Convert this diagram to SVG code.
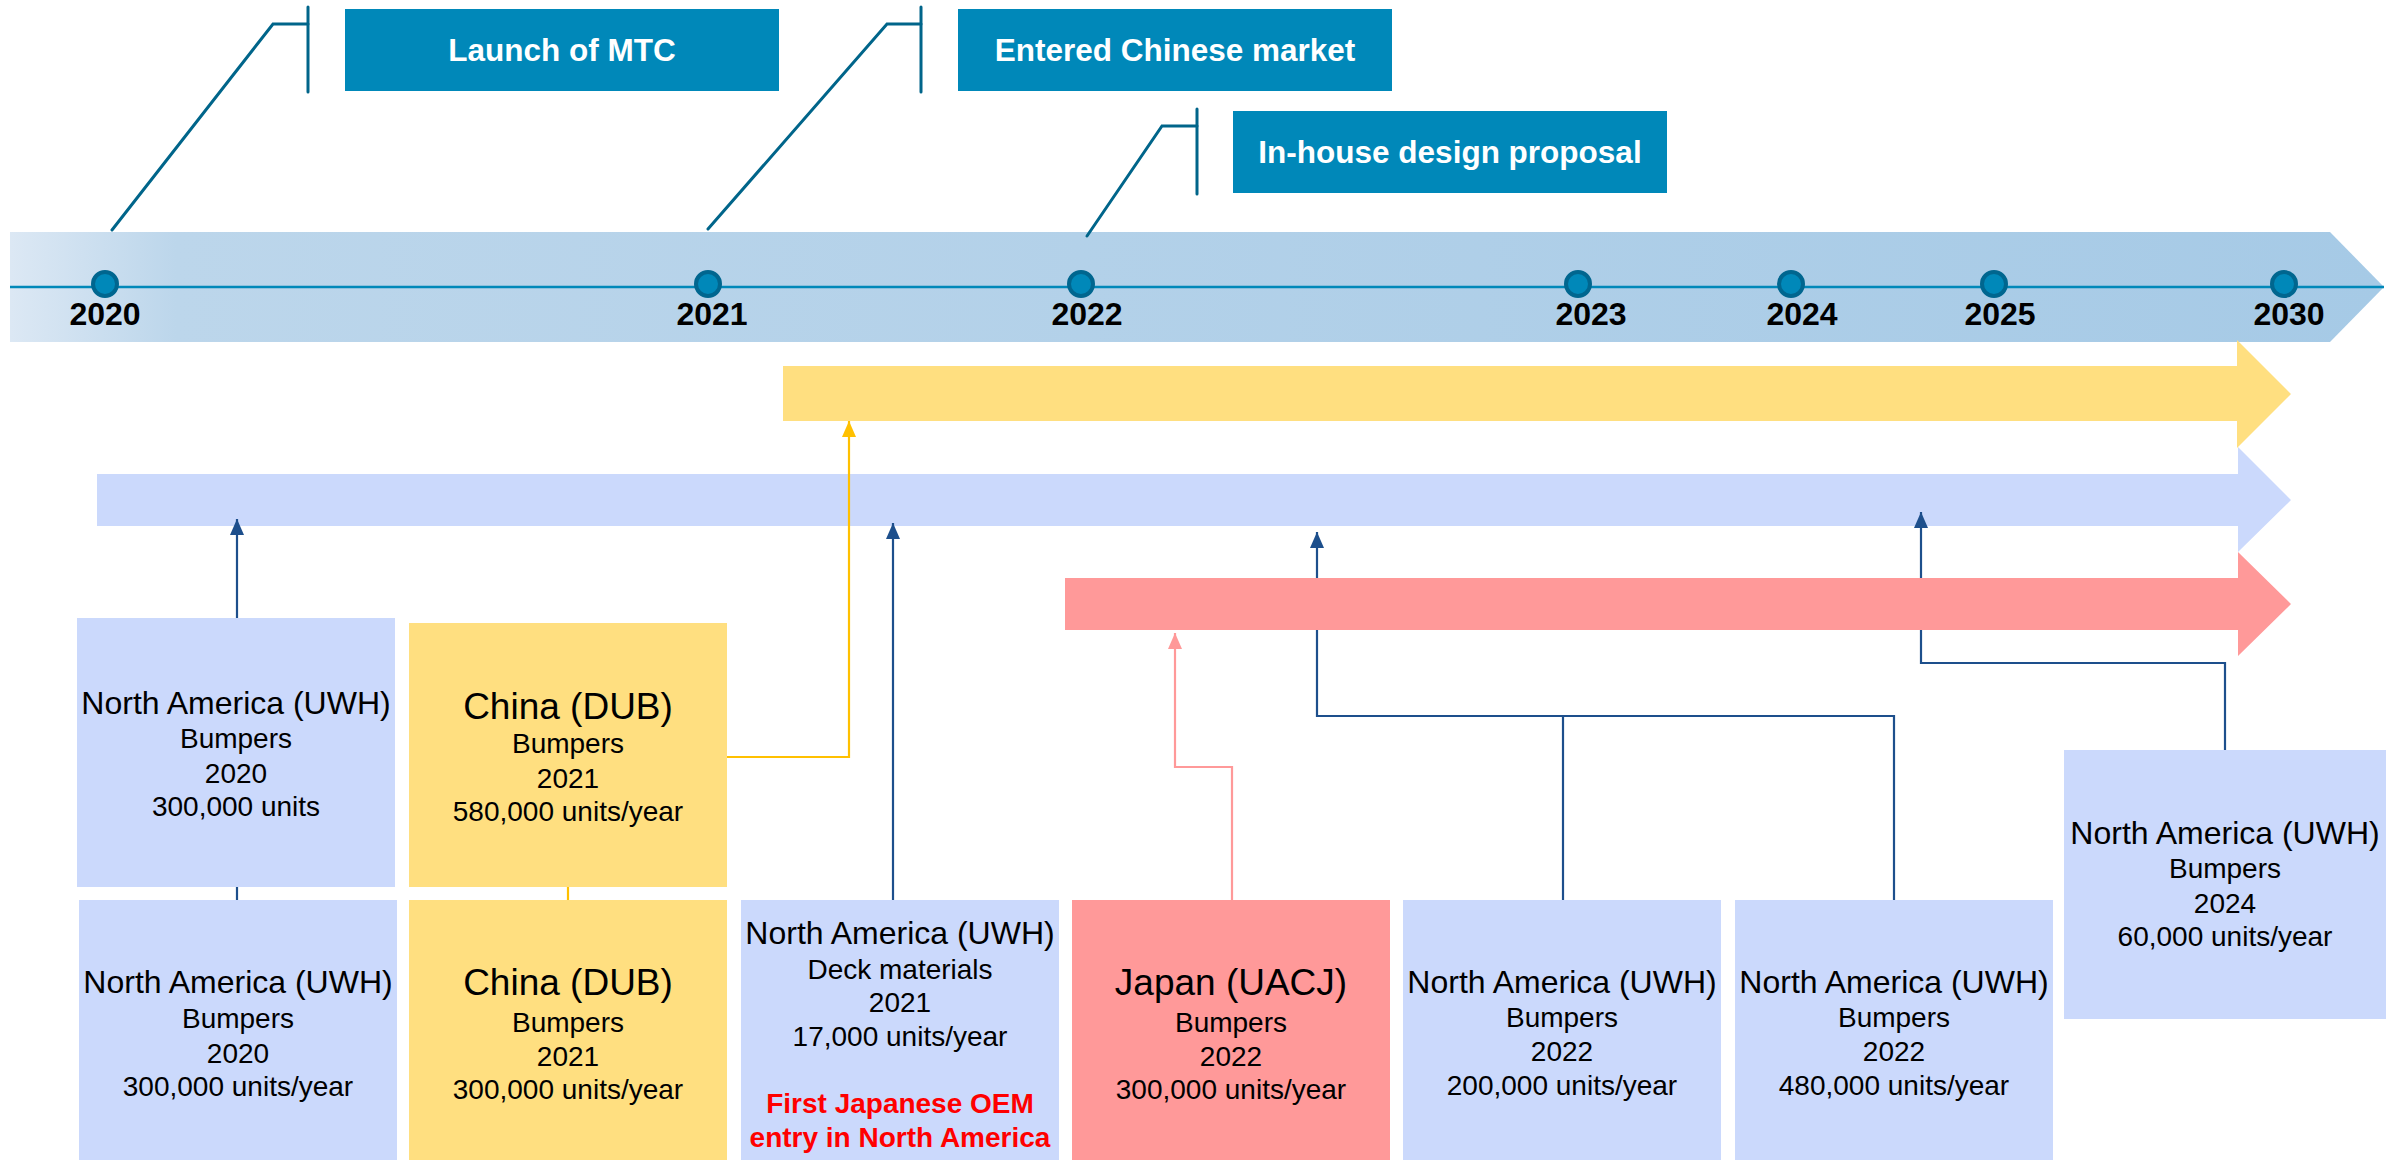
<svg xmlns="http://www.w3.org/2000/svg" width="2392" height="1160" viewBox="0 0 2392 1160">
<defs>
<linearGradient id="band" x1="0" y1="0" x2="1" y2="0">
<stop offset="0" stop-color="#dce8f4"/>
<stop offset="0.07" stop-color="#bcd6eb"/>
<stop offset="1" stop-color="#a6cae6"/>
</linearGradient>
<marker id="ab" viewBox="0 0 16 14" refX="16" refY="7" markerWidth="16" markerHeight="14" markerUnits="userSpaceOnUse" orient="auto"><path d="M0,0 L16,7 L0,14 z" fill="#1d4f8c"/></marker>
<marker id="ay" viewBox="0 0 16 14" refX="16" refY="7" markerWidth="16" markerHeight="14" markerUnits="userSpaceOnUse" orient="auto"><path d="M0,0 L16,7 L0,14 z" fill="#ffc000"/></marker>
<marker id="ap" viewBox="0 0 16 14" refX="16" refY="7" markerWidth="16" markerHeight="14" markerUnits="userSpaceOnUse" orient="auto"><path d="M0,0 L16,7 L0,14 z" fill="#ff9999"/></marker>
<style>
text{font-family:"Liberation Sans",Arial,sans-serif;text-anchor:middle;fill:#000}
.t{font-size:28px}
.h{font-size:32px}
.hl{font-size:37px}
.red{font-size:28px;font-weight:bold;fill:#ff0000}
.yr{font-size:32px;font-weight:bold}
.cl{font-size:31.5px;font-weight:bold;fill:#fff}
.cbox{fill:#0088b9}
.cline{fill:none;stroke:#00658a;stroke-width:3;stroke-linecap:round;stroke-linejoin:miter}
.dot{fill:#0088b9;stroke:#00668f;stroke-width:4}
.lav{fill:#cbd9fc}
.yel{fill:#ffdf80}
.pnk{fill:#ff9999}
.cb{fill:none;stroke:#1d4f8c;stroke-width:2.2}
.cy{fill:none;stroke:#ffc000;stroke-width:2.2}
.cp{fill:none;stroke:#ff9999;stroke-width:2.2}
</style>
</defs>

<g id="timeline">
<polygon points="10,232 2330,232 2384,287 2330,342 10,342" fill="url(#band)"/>
<line x1="10" y1="287" x2="2384" y2="287" stroke="#0088b9" stroke-width="2.5"/>
<circle class="dot" cx="105" cy="284" r="12"/>
<circle class="dot" cx="708" cy="284" r="12"/>
<circle class="dot" cx="1081" cy="284" r="12"/>
<circle class="dot" cx="1578" cy="284" r="12"/>
<circle class="dot" cx="1791" cy="284" r="12"/>
<circle class="dot" cx="1994" cy="284" r="12"/>
<circle class="dot" cx="2284" cy="284" r="12"/>
<text class="yr" x="105" y="325">2020</text>
<text class="yr" x="712" y="325">2021</text>
<text class="yr" x="1087" y="325">2022</text>
<text class="yr" x="1591" y="325">2023</text>
<text class="yr" x="1802" y="325">2024</text>
<text class="yr" x="2000" y="325">2025</text>
<text class="yr" x="2289" y="325">2030</text>
</g>

<g id="callout-mtc">
<path class="cline" d="M112,230 L273,24 L308,24"/>
<line class="cline" x1="308" y1="7" x2="308" y2="92"/>
<rect class="cbox" x="345" y="9" width="434" height="82"/>
<text class="cl" x="562" y="61">Launch of MTC</text>
</g>
<g id="callout-china">
<path class="cline" d="M708,229 L887,24 L921,24"/>
<line class="cline" x1="921" y1="7" x2="921" y2="92"/>
<rect class="cbox" x="958" y="9" width="434" height="82"/>
<text class="cl" x="1175" y="61">Entered Chinese market</text>
</g>
<g id="callout-design">
<path class="cline" d="M1087,236 L1162,126 L1197,126"/>
<line class="cline" x1="1197" y1="109" x2="1197" y2="194"/>
<rect class="cbox" x="1233" y="111" width="434" height="82"/>
<text class="cl" x="1450" y="163">In-house design proposal</text>
</g>

<g id="lane-yellow">
<polygon class="yel" points="783,366 2237,366 2237,340 2291,394 2237,448 2237,421 783,421"/>
</g>
<g id="lane-blue">
<polygon class="lav" points="97,474 2238,474 2238,447 2291,500 2238,552 2238,526 97,526"/>
</g>

<g id="connectors">
<path class="cb" d="M237,900 L237,519" marker-end="url(#ab)"/>
<path class="cy" d="M568,900 L568,757 L849,757 L849,421" marker-end="url(#ay)"/>
<path class="cb" d="M893,900 L893,523" marker-end="url(#ab)"/>
<path class="cp" d="M1232,900 L1232,767 L1175,767 L1175,633" marker-end="url(#ap)"/>
<path class="cb" d="M1563,900 L1563,716"/>
<path class="cb" d="M1894,900 L1894,716 L1317,716 L1317,532" marker-end="url(#ab)"/>
<path class="cb" d="M2225,750 L2225,663 L1921,663 L1921,512" marker-end="url(#ab)"/>
</g>

<g id="lane-red">
<polygon class="pnk" points="1065,578 2238,578 2238,552 2291,604 2238,656 2238,630 1065,630"/>
</g>

<g id="na-2020-a">
<rect class="lav" x="77" y="618" width="318" height="269"/>
<text class="h" x="236" y="714">North America (UWH)</text>
<text class="t" x="236" y="748">Bumpers</text>
<text class="t" x="236" y="783">2020</text>
<text class="t" x="236" y="816">300,000 units</text>
</g>
<g id="china-2021-a">
<rect class="yel" x="409" y="623" width="318" height="264"/>
<text class="hl" x="568" y="719">China (DUB)</text>
<text class="t" x="568" y="753">Bumpers</text>
<text class="t" x="568" y="788">2021</text>
<text class="t" x="568" y="821">580,000 units/year</text>
</g>
<g id="na-2020-b">
<rect class="lav" x="79" y="900" width="318" height="260"/>
<text class="h" x="238" y="993">North America (UWH)</text>
<text class="t" x="238" y="1028">Bumpers</text>
<text class="t" x="238" y="1063">2020</text>
<text class="t" x="238" y="1096">300,000 units/year</text>
</g>
<g id="china-2021-b">
<rect class="yel" x="409" y="900" width="318" height="260"/>
<text class="hl" x="568" y="995">China (DUB)</text>
<text class="t" x="568" y="1032">Bumpers</text>
<text class="t" x="568" y="1066">2021</text>
<text class="t" x="568" y="1099">300,000 units/year</text>
</g>
<g id="na-deck-2021">
<rect class="lav" x="741" y="900" width="318" height="260"/>
<text class="h" x="900" y="944">North America (UWH)</text>
<text class="t" x="900" y="979">Deck materials</text>
<text class="t" x="900" y="1012">2021</text>
<text class="t" x="900" y="1046">17,000 units/year</text>
<text class="red" x="900" y="1113">First Japanese OEM</text>
<text class="red" x="900" y="1147">entry in North America</text>
</g>
<g id="japan-2022">
<rect class="pnk" x="1072" y="900" width="318" height="260"/>
<text class="hl" x="1231" y="995">Japan (UACJ)</text>
<text class="t" x="1231" y="1032">Bumpers</text>
<text class="t" x="1231" y="1066">2022</text>
<text class="t" x="1231" y="1099">300,000 units/year</text>
</g>
<g id="na-2022-a">
<rect class="lav" x="1403" y="900" width="318" height="260"/>
<text class="h" x="1562" y="993">North America (UWH)</text>
<text class="t" x="1562" y="1027">Bumpers</text>
<text class="t" x="1562" y="1061">2022</text>
<text class="t" x="1562" y="1095">200,000 units/year</text>
</g>
<g id="na-2022-b">
<rect class="lav" x="1735" y="900" width="318" height="260"/>
<text class="h" x="1894" y="993">North America (UWH)</text>
<text class="t" x="1894" y="1027">Bumpers</text>
<text class="t" x="1894" y="1061">2022</text>
<text class="t" x="1894" y="1095">480,000 units/year</text>
</g>
<g id="na-2024">
<rect class="lav" x="2064" y="750" width="322" height="269"/>
<text class="h" x="2225" y="844">North America (UWH)</text>
<text class="t" x="2225" y="878">Bumpers</text>
<text class="t" x="2225" y="913">2024</text>
<text class="t" x="2225" y="946">60,000 units/year</text>
</g>
</svg>
